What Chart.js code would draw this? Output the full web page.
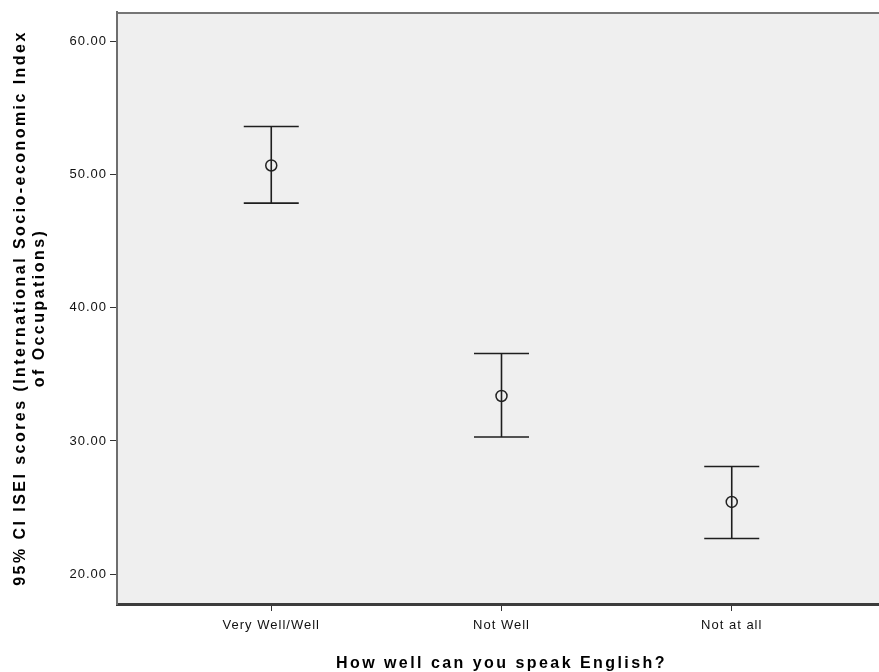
<!DOCTYPE html>
<html>
<head>
<meta charset="utf-8">
<script src="https://cdn.jsdelivr.net/npm/chart.js@4/dist/chart.umd.min.js"></script>
<style>
  html, body { margin: 0; padding: 0; background: #ffffff; overflow: hidden; }
  canvas { display: block; }
</style>
</head>
<body>
<canvas id="ciChart" width="900" height="672"></canvas>
<script>
// Groups on the x axis
const categories = ['Very Well/Well', 'Not Well', 'Not at all'];
// Mean ISEI score per group and its 95% confidence interval
const meanValues = [50.70, 33.38, 25.42];
const lowerValues = [47.87, 30.30, 22.67];
const upperValues = [53.63, 36.57, 28.08];
// Value axis ticks
const yTickValues = [20, 30, 40, 50, 60];

const INK = '#1e1e1e';
const FONT = 'Arial, "Liberation Sans", sans-serif';

// Vertical interval lines, broken between groups with null points
const whiskerPoints = [];
categories.forEach((c, i) => {
  whiskerPoints.push({ x: i, y: lowerValues[i] });
  whiskerPoints.push({ x: i, y: upperValues[i] });
  whiskerPoints.push({ x: i + 0.5, y: null });
});
const capPoints = [];
categories.forEach((c, i) => {
  capPoints.push({ x: i, y: upperValues[i] });
  capPoints.push({ x: i, y: lowerValues[i] });
});
const meanPoints = meanValues.map((v, i) => ({ x: i, y: v }));

// Grey plot panel, top frame line, and wider spacing for the axis titles
const panelPlugin = {
  id: 'panel',
  beforeDraw(chart) {
    const { ctx, chartArea: a } = chart;
    ctx.letterSpacing = '2.45px';
    ctx.save();
    ctx.fillStyle = '#efefef';
    ctx.fillRect(a.left, a.top, a.right - a.left, a.bottom - a.top);
    ctx.strokeStyle = '#757575';
    ctx.lineWidth = 2;
    ctx.beginPath();
    ctx.moveTo(a.left, a.top + 1);
    ctx.lineTo(a.right, a.top + 1);
    ctx.stroke();
    ctx.restore();
  },
  // tick labels are drawn after the datasets, with tighter spacing
  afterDatasetsDraw(chart) {
    chart.ctx.letterSpacing = '1px';
  }
};

function noOverflow(scale) {
  scale.paddingTop = 0;
  scale.paddingBottom = 0;
  scale.paddingLeft = 0;
  scale.paddingRight = 0;
}

new Chart(document.getElementById('ciChart'), {
  type: 'scatter',
  data: {
    datasets: [
      {
        data: whiskerPoints,
        showLine: true,
        spanGaps: false,
        borderColor: INK,
        borderWidth: 1.6,
        pointRadius: 0,
        pointHoverRadius: 0
      },
      {
        data: capPoints,
        pointStyle: 'line',
        pointRadius: 27.5,
        pointHoverRadius: 27.5,
        borderColor: INK,
        borderWidth: 1.6,
        showLine: false
      },
      {
        data: meanPoints,
        pointStyle: 'circle',
        pointRadius: 5.5,
        pointHoverRadius: 5.5,
        borderColor: '#222222',
        borderWidth: 1.5,
        backgroundColor: 'rgba(0,0,0,0)',
        showLine: false
      }
    ]
  },
  options: {
    responsive: false,
    devicePixelRatio: 1,
    animation: false,
    events: [],
    layout: { autoPadding: false, padding: { top: 12, right: 14, bottom: 0, left: 0 } },
    plugins: {
      legend: { display: false },
      tooltip: { enabled: false }
    },
    scales: {
      x: {
        type: 'linear',
        min: -0.67,
        max: 2.67,
        afterBuildTicks(scale) {
          scale.ticks = categories.map((c, i) => ({ value: i }));
        },
        afterFit(scale) { scale.height = 68; noOverflow(scale); },
        ticks: {
          z: 1,
          autoSkip: false,
          maxRotation: 0,
          minRotation: 0,
          padding: 7,
          color: '#111111',
          font: { family: FONT, size: 13 },
          callback: (v) => categories[v]
        },
        grid: {
          display: true,
          drawOnChartArea: false,
          drawTicks: true,
          tickLength: 7,
          tickColor: '#333333',
          tickWidth: 1
        },
        border: { display: true, color: '#3c3c3c', width: 3 },
        title: {
          display: true,
          text: 'How well can you speak English?',
          color: '#000000',
          padding: { top: 0, bottom: 0 },
          font: { family: FONT, size: 16, weight: 'bold', lineHeight: 1 }
        }
      },
      y: {
        type: 'linear',
        min: 17.75,
        max: 62.23,
        afterBuildTicks(scale) {
          scale.ticks = yTickValues.map(v => ({ value: v }));
        },
        afterFit(scale) { scale.width = 117; noOverflow(scale); },
        ticks: {
          z: 1,
          padding: 3,
          color: '#111111',
          font: { family: FONT, size: 13 },
          callback: (v) => Number(v).toFixed(2)
        },
        grid: {
          display: true,
          drawOnChartArea: false,
          drawTicks: true,
          tickLength: 7,
          tickColor: '#333333',
          tickWidth: 1
        },
        border: { display: true, color: '#6e6e6e', width: 2 },
        title: {
          display: true,
          text: ['95% CI ISEI scores (International Socio-economic Index', 'of Occupations)'],
          color: '#000000',
          padding: { top: 11, bottom: 0 },
          font: { family: FONT, size: 16, weight: 'bold', lineHeight: 1.2 }
        }
      }
    }
  },
  plugins: [panelPlugin]
});
</script>
</body>
</html>
